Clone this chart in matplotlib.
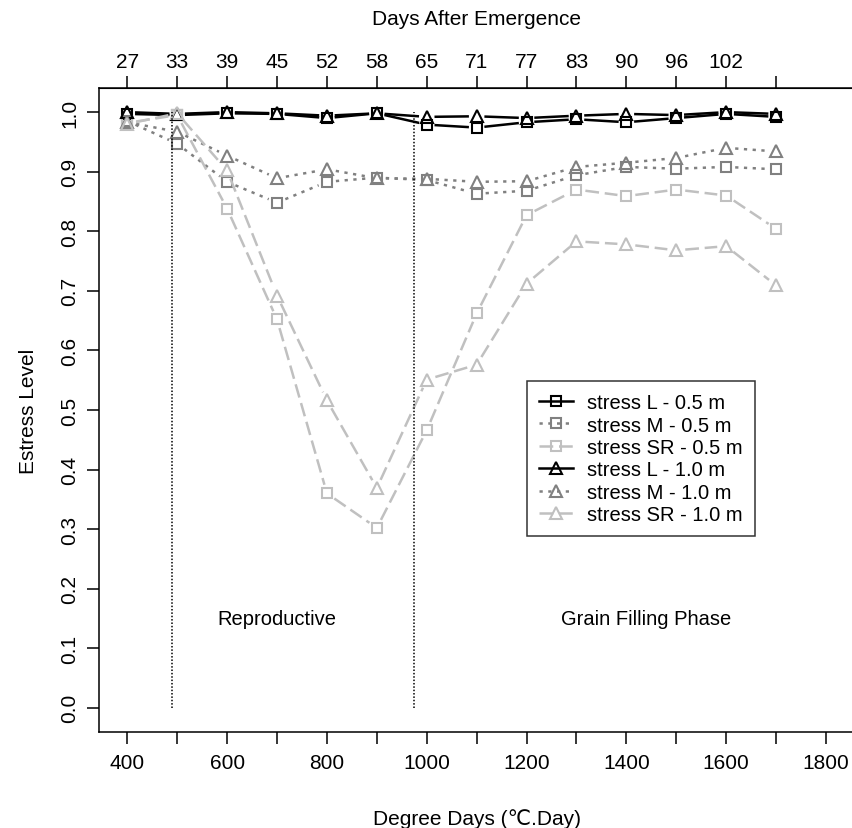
import matplotlib
matplotlib.use("Agg")
import matplotlib.pyplot as plt
import numpy as np

plt.rcParams['font.family'] = ['Liberation Sans', 'DejaVu Sans']

# degree days (x) and matching days after emergence (top axis)
degree_days = [400, 500, 600, 700, 800, 900, 1000, 1100, 1200, 1300, 1400, 1500, 1600, 1700]
dae_labels = ['27', '33', '39', '45', '52', '58', '65', '71', '77', '83', '90', '96', '102', '']

stress_L_05 = [0.997, 0.995, 0.998, 0.997, 0.990, 0.998, 0.979, 0.974, 0.983, 0.988, 0.983, 0.990, 0.997, 0.992]
stress_M_05 = [0.985, 0.947, 0.883, 0.848, 0.883, 0.890, 0.886, 0.863, 0.868, 0.894, 0.908, 0.905, 0.908, 0.904]
stress_SR_05 = [0.982, 0.995, 0.838, 0.652, 0.360, 0.302, 0.466, 0.662, 0.827, 0.870, 0.859, 0.870, 0.860, 0.804]
stress_L_10 = [1.000, 0.997, 1.000, 0.998, 0.994, 0.998, 0.992, 0.993, 0.990, 0.994, 0.997, 0.995, 1.000, 0.997]
stress_M_10 = [0.983, 0.967, 0.927, 0.889, 0.904, 0.889, 0.888, 0.883, 0.884, 0.908, 0.915, 0.923, 0.940, 0.934]
stress_SR_10 = [0.980, 0.998, 0.902, 0.692, 0.516, 0.369, 0.551, 0.576, 0.712, 0.783, 0.778, 0.768, 0.775, 0.709]

phase_bounds = [490, 975]
phase_names = ['Reproductive', 'Grain Filling Phase']
phase_x = [700, 1440]

fig = plt.figure(figsize=(8.52, 8.29), dpi=100)
ax = fig.add_axes([0.1166, 0.1162, 0.8857, 0.7761])
ax.set_xlim(344, 1856)
ax.set_ylim(-0.04, 1.04)

black, mid, light = 'black', '#808080', '#c0c0c0'
solid = '-'
dotted = (0, (1.3, 2.2))
longdash = (0, (5.5, 2.3))

series = [
    (stress_L_05, 's', black, solid, 'stress L - 0.5 m'),
    (stress_M_05, 's', mid, dotted, 'stress M - 0.5 m'),
    (stress_SR_05, 's', light, longdash, 'stress SR - 0.5 m'),
    (stress_L_10, '^', black, solid, 'stress L - 1.0 m'),
    (stress_M_10, '^', mid, dotted, 'stress M - 1.0 m'),
    (stress_SR_10, '^', light, longdash, 'stress SR - 1.0 m'),
]

gap = 9  # pixels left open around each point, like R's type="b"
fig.canvas.draw()
to_px = ax.transData
to_data = ax.transData.inverted()

for vals, mk, col, ls, lab in series:
    ms = 7.2 if mk == 's' else 9
    pts = to_px.transform(np.column_stack([degree_days, vals]))
    for p0, p1 in zip(pts[:-1], pts[1:]):
        d = p1 - p0
        n = np.hypot(*d)
        if n <= 2 * gap:
            continue
        u = d / n
        seg = to_data.transform(np.array([p0 + u * gap, p1 - u * gap]))
        ax.plot(seg[:, 0], seg[:, 1], color=col, linestyle=ls, linewidth=1.8)
    ax.plot(degree_days, vals, linestyle='none', marker=mk, markersize=ms,
            markerfacecolor='none', markeredgecolor=col, markeredgewidth=1.5)
    # legend proxy
    ax.plot([], [], color=col, linestyle=ls, linewidth=1.8, marker=mk, markersize=ms,
            markerfacecolor='none', markeredgecolor=col, markeredgewidth=1.5, label=lab)

for xb in phase_bounds:
    ax.plot([xb, xb], [0, 1], color='black', linestyle=(0, (1, 1.2)), linewidth=1.1)
for xt, name in zip(phase_x, phase_names):
    ax.text(xt, 0.15, name, ha='center', va='center', fontsize=14.5)

ax.spines['right'].set_visible(False)
for s in ['left', 'top', 'bottom']:
    ax.spines[s].set_linewidth(1.1)

ax.set_xticks(range(400, 1801, 100))
ax.set_xticklabels([str(v) if v % 200 == 0 else '' for v in range(400, 1801, 100)])
yt = [i / 10 for i in range(11)]
ax.set_yticks(yt)
ax.set_yticklabels([f'{v:.1f}' for v in yt], rotation=90, va='center')
ax.tick_params(axis='both', direction='out', length=8.6, width=1.1, labelsize=15)
ax.tick_params(axis='x', pad=7)
ax.tick_params(axis='y', pad=6)

top = ax.secondary_xaxis('top')
top.set_xticks(degree_days)
top.set_xticklabels(dae_labels)
top.tick_params(direction='out', length=8.6, width=1.1, labelsize=15, pad=4)
top.set_xlabel('Days After Emergence', fontsize=15, labelpad=20)

ax.set_xlabel('Degree Days (℃.Day)', fontsize=15, labelpad=26)
ax.set_ylabel('Estress Level', fontsize=15, labelpad=16)

leg = ax.legend(loc='upper left', bbox_to_anchor=(0.5667, 0.545), fontsize=14.5,
                frameon=True, fancybox=False, edgecolor='black', borderaxespad=0,
                handlelength=1.7, handletextpad=0.7, labelspacing=0.17,
                borderpad=0.6)
leg.get_frame().set_linewidth(1.1)

fig.savefig('out.png', dpi=100)
